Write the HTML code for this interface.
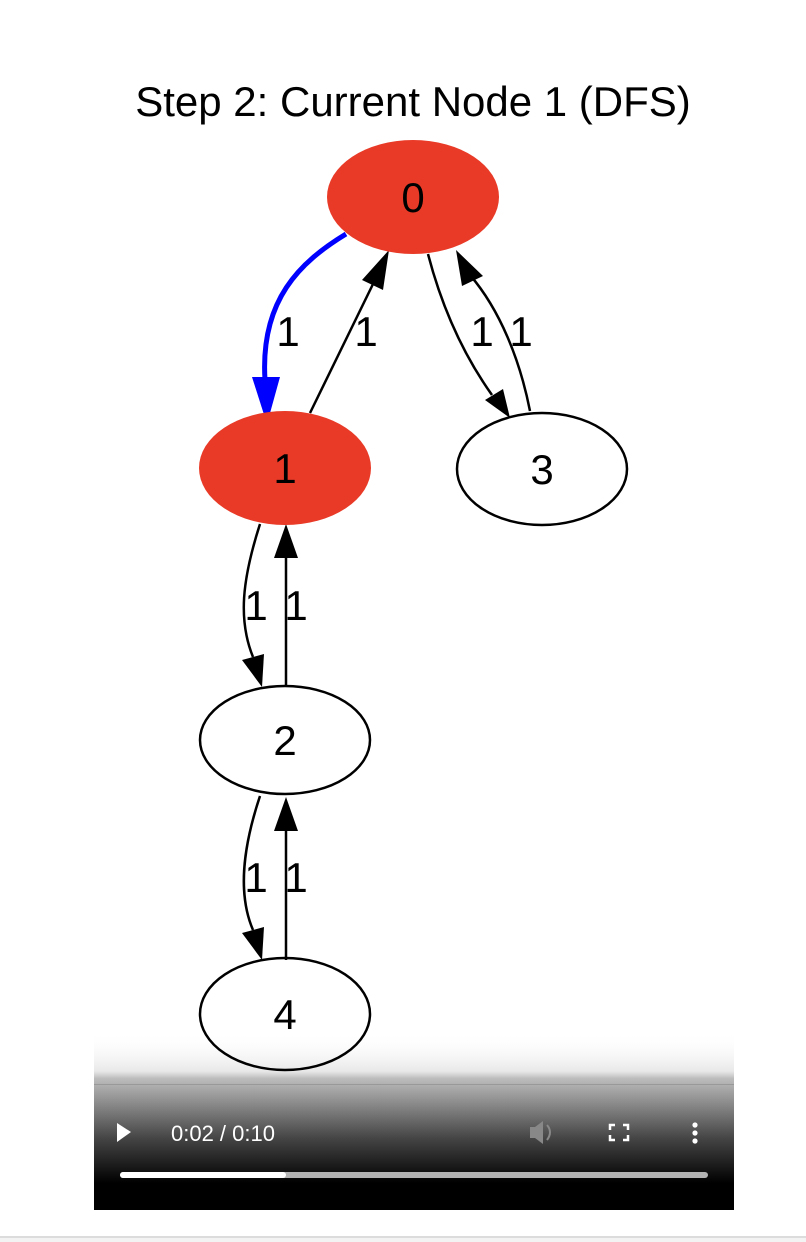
<!DOCTYPE html>
<html><head><style>
html,body{margin:0;padding:0;background:#fff;width:806px;height:1242px;overflow:hidden}
svg{position:absolute;left:0;top:0}
</style></head><body>
<svg width="806" height="1242" viewBox="0 0 806 1242" font-family="Liberation Sans, sans-serif">
<defs>
<linearGradient id="g" x1="0" y1="0" x2="0" y2="1">
<stop offset="0" stop-color="#fff" stop-opacity="0"/>
<stop offset="0.22" stop-color="#e6e6e6" stop-opacity="0.9"/>
<stop offset="0.26" stop-color="#bdbdbd"/>
<stop offset="0.6" stop-color="#444"/>
<stop offset="0.85" stop-color="#000"/>
<stop offset="1" stop-color="#000"/>
</linearGradient>
<clipPath id="c"><rect x="0" y="0" width="806" height="1084"/></clipPath>
</defs>
<text x="413" y="116" font-size="42" text-anchor="middle">Step 2: Current Node 1 (DFS)</text>
<g fill="none" stroke="#000" stroke-width="2.5">
<path d="M310,413 L374,282"/>
<path d="M428,254 C440,300 460,350 492,395"/>
<path d="M530,411 C520,360 500,310 470,275"/>
<path d="M260,524 C242,580 238,620 253,657"/>
<path d="M286,686 L286,558"/>
<path d="M260,796 C242,850 238,895 253,930"/>
<path d="M286,960 L286,830"/>
</g>
<path d="M346,234 C300,262 260,300 265,380" fill="none" stroke="#0000ff" stroke-width="5"/>
<g fill="#000">
<polygon points="389,250 383,290 362,280"/>
<polygon points="510,418 485,400 503,389"/>
<polygon points="456,250 483,276 462,286"/>
<polygon points="262,687 242,660 264,654"/>
<polygon points="286,524 274,558 298,558"/>
<polygon points="262,960 242,933 264,927"/>
<polygon points="286,797 274,831 298,831"/>
</g>
<polygon points="267,424 252,377 280,377" fill="#0000ff"/>
<ellipse cx="413" cy="197" rx="86" ry="57" fill="#e93a27"/>
<ellipse cx="285" cy="468" rx="86" ry="57" fill="#e93a27"/>
<ellipse cx="542" cy="469" rx="85" ry="56" fill="#fff" stroke="#000" stroke-width="2.5"/>
<ellipse cx="285" cy="740" rx="85" ry="54" fill="#fff" stroke="#000" stroke-width="2.5"/>
<g font-size="42" text-anchor="middle">
<text x="413" y="212">0</text>
<text x="285" y="483">1</text>
<text x="542" y="484">3</text>
<text x="285" y="755">2</text>
</g>
<g font-size="42" text-anchor="middle">
<text x="288" y="346">1</text>
<text x="366" y="346">1</text>
<text x="482" y="346">1</text>
<text x="521" y="346">1</text>
<text x="256" y="620">1</text>
<text x="296" y="620">1</text>
<text x="256" y="892">1</text>
<text x="296" y="892">1</text>
</g>
<rect x="94" y="1032" width="640" height="178" fill="url(#g)"/>
<g clip-path="url(#c)">
<ellipse cx="285" cy="1014" rx="85" ry="56" fill="none" stroke="#000" stroke-width="2.5"/>
</g>
<text x="285" y="1029" font-size="42" text-anchor="middle">4</text>
<line x1="94" y1="1084.5" x2="734" y2="1084.5" stroke="#999" stroke-width="1"/>
<polygon points="117,1123 117,1142 131,1132" fill="#fff"/>
<text x="171" y="1141" font-size="22" fill="#fff">0:02 / 0:10</text>
<g fill="#888"><rect x="530" y="1127" width="5" height="11"/><polygon points="535,1127 543,1121 543,1144 535,1138"/></g>
<path d="M547,1125 Q553,1132 547,1140" stroke="#888" stroke-width="2" fill="none"/>
<g stroke="#fff" stroke-width="2.5" fill="none">
<path d="M610,1130 V1125 H615"/><path d="M623,1125 H628 V1130"/>
<path d="M610,1135 V1140 H615"/><path d="M623,1140 H628 V1135"/>
</g>
<g fill="#fff"><circle cx="695" cy="1125" r="2.6"/><circle cx="695" cy="1133" r="2.6"/><circle cx="695" cy="1141" r="2.6"/></g>
<rect x="120" y="1172" width="588" height="6" rx="3" fill="#b3b3b3"/>
<rect x="120" y="1172" width="166" height="6" rx="3" fill="#fff"/>
<line x1="0" y1="1237" x2="806" y2="1237" stroke="#d0d0d0" stroke-width="1.5"/>
<rect x="0" y="1238" width="806" height="4" fill="#f3f3f3"/>
</svg>
</body></html>
